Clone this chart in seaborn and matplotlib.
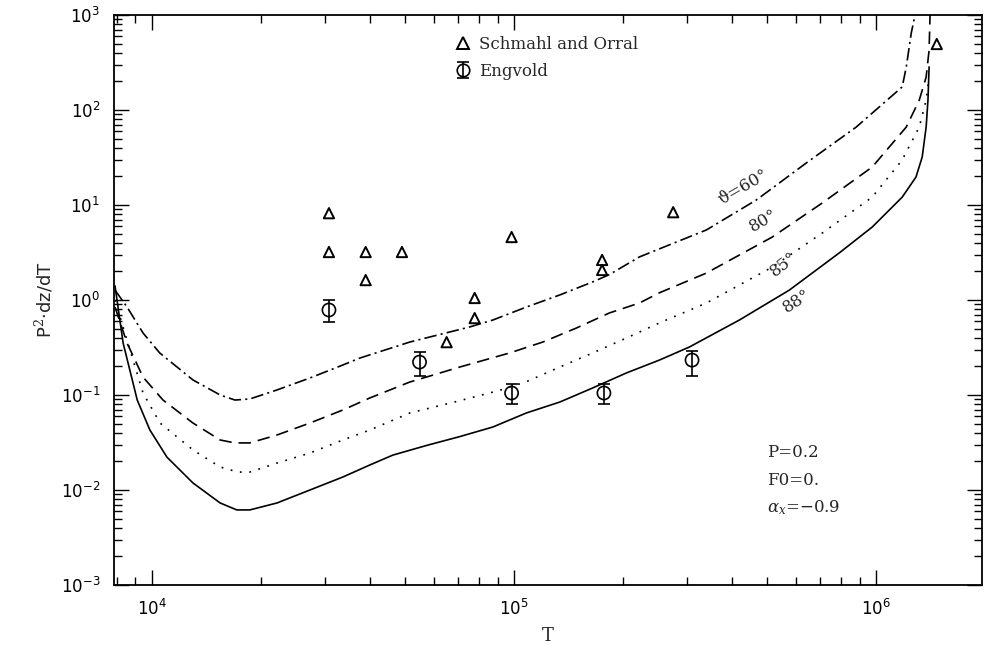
import numpy as np
import matplotlib
matplotlib.use("Agg")
import matplotlib.pyplot as plt
from matplotlib.lines import Line2D
from matplotlib.ticker import LogLocator, NullFormatter, FixedLocator, LogFormatterSciNotation
import seaborn as sns

# ---------------- data ----------------
T60 = [7900, 8530, 9440, 10500, 12970, 15420, 16940, 18620, 22130, 27290, 33650, 37500,
       51520, 75340, 87300, 108100, 133700, 164800, 183200, 221800, 339600, 466700,
       641200, 881000, 1180000, 1211000, 1250000, 1288000]
V60 = [1.27, 0.843, 0.450, 0.277, 0.144, 0.100, 0.0885, 0.0908, 0.113, 0.151, 0.207, 0.245,
       0.361, 0.520, 0.615, 0.843, 1.13, 1.55, 1.85, 2.84, 5.46, 11.3,
       27.7, 66.2, 175, 284, 646, 1120]

T80 = [7900, 8530, 9440, 10720, 12970, 15420, 16940, 18620, 22130, 27290, 33650, 39900,
       51520, 70790, 97200, 120000, 148600, 183200, 221800, 251800, 339600, 516400,
       709600, 975000, 1211000, 1315000, 1374000, 1400000, 1409000]
V80 = [0.843, 0.352, 0.1545, 0.0885, 0.0507, 0.0336, 0.0313, 0.0313, 0.0379, 0.0507, 0.0695, 0.0929,
       0.137, 0.197, 0.277, 0.361, 0.507, 0.730, 0.929, 1.19, 1.92, 4.60,
       10.5, 25.1, 66.2, 127, 222, 427, 1050]

T85 = [7900, 8690, 9440, 10520, 12970, 15420, 17260, 18620, 22130, 27290, 33650, 39900,
       51520, 70790, 91200, 108100, 133700, 164800, 204200, 251800, 339600, 516400,
       709600, 975000, 1180000, 1315000, 1374000, 1400000]
V85 = [1.0, 0.298, 0.105, 0.0507, 0.0264, 0.01746, 0.01545, 0.01545, 0.0192, 0.0245, 0.0336, 0.0427,
       0.0647, 0.0871, 0.112, 0.138, 0.197, 0.277, 0.398, 0.573, 0.929, 2.22,
       5.07, 12.1, 29.8, 66.2, 127, 222]

T88 = [7900, 8320, 9100, 9860, 10990, 12970, 15420, 17140, 18620, 22130, 27290, 33650,
       39900, 46240, 57410, 70790, 87300, 108100, 133700, 164800, 204200, 251800,
       304800, 418800, 575400, 790700, 975000, 1180000, 1288000, 1340000, 1374000,
       1390000, 1400000]
V88 = [1.41, 0.352, 0.0885, 0.0429, 0.0222, 0.01186, 0.0073, 0.00617, 0.00617, 0.0073, 0.01, 0.0137,
       0.0183, 0.0233, 0.0295, 0.0365, 0.046, 0.0647, 0.0843, 0.1186, 0.1706, 0.233,
       0.320, 0.615, 1.27, 3.13, 5.86, 12.1, 19.7, 32.0, 66.2,
       127, 284]

schmahl_T = [30800, 30800, 38900, 49000, 38900, 98400, 77800, 77800, 65100,
             175000, 175000, 275000, 1470000]
schmahl_V = [8.2, 3.2, 3.2, 3.2, 1.62, 4.6, 1.05, 0.645, 0.36,
             2.64, 2.07, 8.4, 495]

engvold_T = [30800, 54800, 98400, 177000, 310000]
engvold_V = [0.785, 0.222, 0.105, 0.105, 0.233]
engvold_lo = [0.59, 0.158, 0.080, 0.080, 0.16]
engvold_hi = [1.0, 0.284, 0.13, 0.13, 0.29]

x_major = [1e4, 1e5, 1e6]
y_major = [1e-3, 1e-2, 1e-1, 1e0, 1e1, 1e2, 1e3]

curve_labels = ["\u03d1=60\u00b0", "80\u00b0", "85\u00b0", "88\u00b0"]
param_text = ["P=0.2", "F0=0.", "$\\alpha_{x}$=\u22120.9"]

# ---------------- style ----------------
sns.set_style("ticks")
plt.rcParams["font.family"] = ["DejaVu Sans"]
plt.rcParams["lines.scale_dashes"] = False
plt.rcParams["mathtext.fontset"] = "dejavuserif"

fig = plt.figure(figsize=(9.87, 6.48), dpi=100)
ax = fig.add_axes([114 / 987, 1 - 585 / 648, 868 / 987, 570 / 648])
ax.set_xscale("log")
ax.set_yscale("log")

lw = 1.2
styles = [
    (T60, V60, (0, (9, 3, 1.5, 3))),
    (T80, V80, (0, (9, 5))),
    (T85, V85, (0, (1.3, 5.5))),
    (T88, V88, "-"),
]
for tx, vy, ls in styles:
    sns.lineplot(x=tx, y=vy, ax=ax, color="black", lw=lw, linestyle=ls,
                 sort=False, estimator=None)

sns.scatterplot(x=schmahl_T, y=schmahl_V, ax=ax, marker="^", s=55, linewidth=1.4)
ax.collections[-1].set_facecolor("none")
ax.collections[-1].set_edgecolor("black")

sns.scatterplot(x=engvold_T, y=engvold_V, ax=ax, marker="o", s=90, linewidth=1.2)
ax.collections[-1].set_facecolor("none")
ax.collections[-1].set_edgecolor("black")

yerr = [np.array(engvold_V) - np.array(engvold_lo), np.array(engvold_hi) - np.array(engvold_V)]
ax.errorbar(engvold_T, engvold_V, yerr=yerr, fmt="none", ecolor="black",
            elinewidth=1.2, capsize=4.5, capthick=1.2)

ax.set_xlim(7850, 1.96e6)
ax.set_ylim(1e-3, 1e3)

# ticks
ax.xaxis.set_major_locator(FixedLocator(x_major))
ax.yaxis.set_major_locator(FixedLocator(y_major))
ax.xaxis.set_major_formatter(LogFormatterSciNotation())
ax.yaxis.set_major_formatter(LogFormatterSciNotation())
ax.xaxis.set_minor_locator(LogLocator(base=10, subs=np.arange(2, 10), numticks=100))
ax.yaxis.set_minor_locator(LogLocator(base=10, subs=np.arange(2, 10), numticks=100))
ax.xaxis.set_minor_formatter(NullFormatter())
ax.yaxis.set_minor_formatter(NullFormatter())
ax.tick_params(which="both", direction="in", top=True, right=True, width=1.0, colors="black")
ax.tick_params(which="major", length=11, labelsize=12, pad=10)
ax.tick_params(which="minor", length=6)
for sp in ax.spines.values():
    sp.set_linewidth(1.3)
    sp.set_color("black")

ax.set_xlabel("T", fontsize=13, family="DejaVu Serif", labelpad=6)
ax.set_ylabel("P$^2$\u00b7dz/dT", fontsize=13, labelpad=4)

# legend
h_tri = Line2D([], [], marker="^", ls="none", mfc="none", mec="black", mew=1.4, ms=8)
h_eb = ax.errorbar([np.nan], [np.nan], yerr=[[0.1], [0.1]], fmt="o", mfc="none", mec="black",
                   ecolor="black", color="black", ms=9, mew=1.2, elinewidth=1.2,
                   capsize=4.5, capthick=1.2)
leg = ax.legend([h_tri, h_eb], ["Schmahl and Orral", "Engvold"], loc="upper left",
                bbox_to_anchor=(0.375, 0.99), frameon=False, handlelength=1.0,
                handletextpad=0.5, labelspacing=0.6,
                prop={"family": "DejaVu Serif", "size": 12})

# curve labels
lab_pos = [(0.725, 0.698, 30), (0.748, 0.640, 30), (0.771, 0.563, 38), (0.787, 0.498, 33)]
for txt, (px, py, rot) in zip(curve_labels, lab_pos):
    ax.text(px, py, txt, transform=ax.transAxes, rotation=rot, ha="center", va="center",
            fontsize=12, family="DejaVu Serif")

for i, txt in enumerate(param_text):
    ax.text(0.752, 0.233 - i * 0.049, txt, transform=ax.transAxes, ha="left", va="center",
            fontsize=12, family="DejaVu Serif")

fig.savefig("out.png", dpi=100)
